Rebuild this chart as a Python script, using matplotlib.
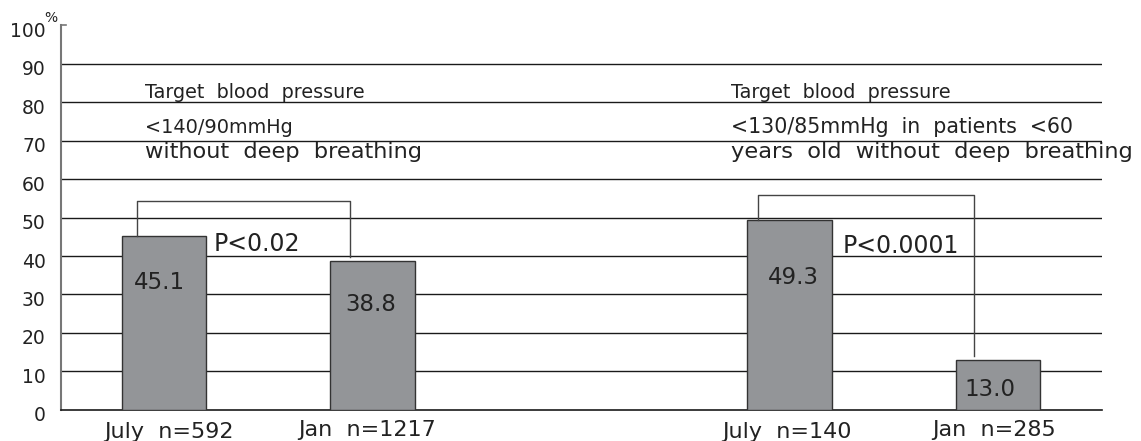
import matplotlib
matplotlib.use("Agg")
import matplotlib.pyplot as plt
from matplotlib.transforms import ScaledTranslation

# Data
categories = ["July  n=592", "Jan  n=1217", "July  n=140", "Jan  n=285"]
values = [45.1, 38.8, 49.3, 13.0]
value_labels = ["45.1", "38.8", "49.3", "13.0"]
positions = [1, 2, 4, 5]
p_labels = ["P<0.02", "P<0.0001"]
title_left = ["Target  blood  pressure", "<140/90mmHg", "without  deep  breathing"]
title_right = ["Target  blood  pressure", "<130/85mmHg  in  patients  <60",
               "years  old  without  deep  breathing"]
yticks = [0, 10, 20, 30, 40, 50, 60, 70, 80, 90, 100]

plt.rcParams['font.family'] = ['DejaVu Sans']
TXT = "#222222"
fig = plt.figure(figsize=(11.41, 4.41), dpi=100)
ax = fig.add_axes([0.0535, 0.0703, 0.966 - 0.0535, 0.9433 - 0.0703])
ax.set_xlim(0.505, 5.5)
ax.set_ylim(0, 100)

# gridlines
for t in yticks[1:-1]:
    ax.axhline(t, color="#1a1a1a", lw=1.0, zorder=1)

bar_color = "#939598"
ax.bar(positions, values, width=0.405, color=bar_color, edgecolor="#333333",
       linewidth=1.0, zorder=3)

# spines
for s in ["top", "right"]:
    ax.spines[s].set_visible(False)
ax.spines["left"].set_color("#777777")
ax.spines["left"].set_linewidth(1.5)
ax.spines["bottom"].set_color("#1a1a1a")
ax.spines["bottom"].set_linewidth(1.2)

ax.set_yticks(yticks)
ax.set_yticklabels([str(t) for t in yticks], fontsize=13.5, color=TXT)
ax.tick_params(axis="y", length=0, pad=11)
off = ScaledTranslation(0, -4 / 100, fig.dpi_scale_trans)
for lab in ax.get_yticklabels():
    lab.set_transform(lab.get_transform() + off)
ax.plot([0.505, 0.53], [100, 100], color="#777777", lw=1.2, clip_on=False, zorder=4)
ax.text(0.455, 101.8, "%", fontsize=10, color=TXT, ha="center", va="center",
        clip_on=False)

ax.set_xticks([])
label_x = [1.023, 1.973, 3.987, 4.98]
label_y = [-7.3, -6.8, -7.3, -6.8]
for x, y, c in zip(label_x, label_y, categories):
    ax.text(x, y, c, ha="center", va="baseline", fontsize=16, color=TXT,
            clip_on=False)

# value labels inside bars
val_x = [0.975, 1.992, 4.016, 4.96]
val_y = [33.2, 27.3, 34.3, 5.2]
for x, y, lbl in zip(val_x, val_y, value_labels):
    ax.text(x, y, lbl, ha="center", va="center", fontsize=16.5, color=TXT, zorder=5)

# significance brackets
br_color = "#444444"
ax.plot([0.869, 0.869, 1.891, 1.891], [values[0], 54.3, 54.3, 39.7],
        color=br_color, lw=1.0, zorder=4)
ax.plot([3.848, 3.848, 4.884, 4.884], [values[2], 55.8, 55.8, 14.0],
        color=br_color, lw=1.0, zorder=4)
ax.text(1.239, 43.0, p_labels[0], ha="left", va="center", fontsize=17, color=TXT)
ax.text(4.256, 42.6, p_labels[1], ha="left", va="center", fontsize=17, color=TXT)

# group titles (one text per line)
line_y = [81.0, 71.9, 65.4]
left_sizes = [13.8, 13.9, 16.2]
right_sizes = [13.8, 14.8, 16.2]
for line, y, fs in zip(title_left, line_y, left_sizes):
    ax.text(0.908, y, line, ha="left", va="baseline", fontsize=fs, color=TXT)
for line, y, fs in zip(title_right, line_y, right_sizes):
    ax.text(3.718, y, line, ha="left", va="baseline", fontsize=fs, color=TXT,
            clip_on=False)

fig.savefig("out.png", dpi=100)
